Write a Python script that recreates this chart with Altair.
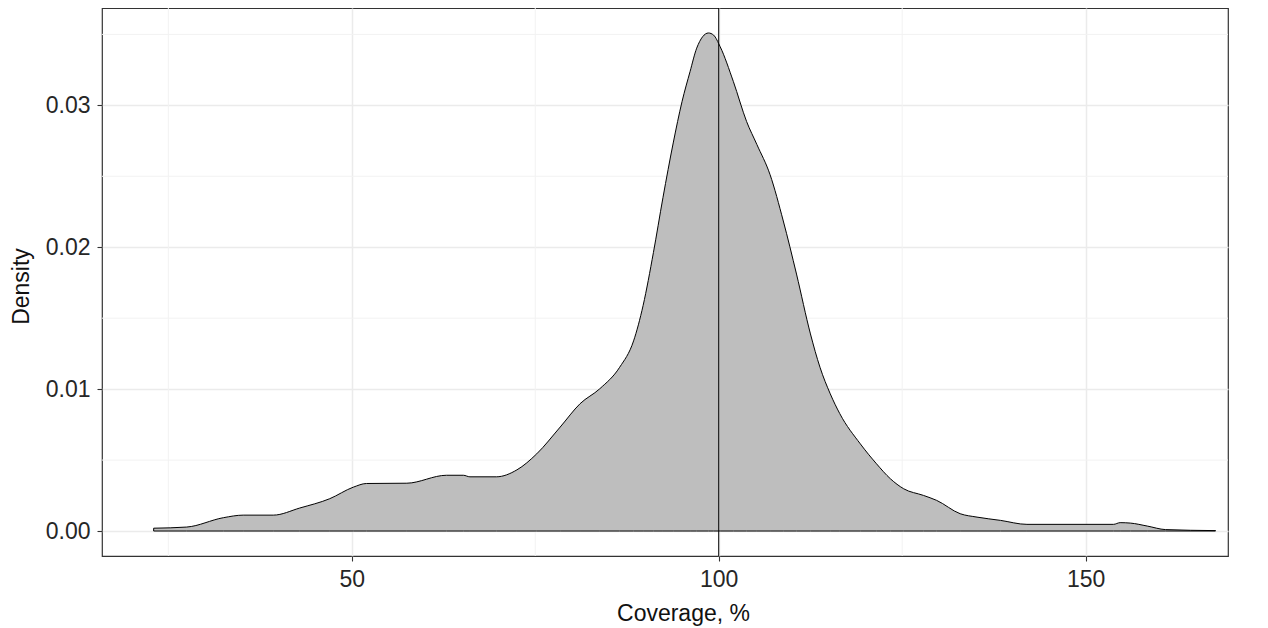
import altair as alt
import pandas as pd

coverage = [23.0, 27.5, 32.5, 35.2, 39.3, 42.9, 47.0, 50.2, 52.0, 57.5, 62.9, 65.2, 66.1,
            69.7, 72.5, 75.2, 78.4, 81.1, 83.8, 86.5, 88.4, 89.7, 91.1, 92.4, 93.8, 95.0,
            96.1, 97.0, 98.6, 99.3, 100.2, 102.0, 103.8, 105.2, 107.0, 108.8, 110.6, 112.5,
            113.8, 115.2, 116.5, 119.3, 121.5, 123.4, 125.2, 127.9, 129.7, 132.9, 135.2,
            138.4, 142.0, 153.8, 154.7, 156.1, 158.4, 160.9, 167.7]
density = [0.00020, 0.00028, 0.00094, 0.00112, 0.00112, 0.00162, 0.00228, 0.00309, 0.00335,
           0.00337, 0.00393, 0.00393, 0.00382, 0.00382, 0.00431, 0.00544, 0.00733, 0.00897,
           0.01003, 0.01154, 0.01340, 0.01590, 0.01962, 0.02349, 0.02735, 0.03026, 0.03239,
           0.03403, 0.03510, 0.03495, 0.03413, 0.03167, 0.02886, 0.02724, 0.02511, 0.02185,
           0.01811, 0.01389, 0.01154, 0.00967, 0.00827, 0.00614, 0.00474, 0.00368, 0.00298,
           0.00251, 0.00216, 0.00122, 0.00098, 0.00075, 0.00047, 0.00047, 0.00059, 0.00056,
           0.00035, 0.00010, 0.00003]

x_major = [50, 100, 150]
x_minor = [25, 75, 125]
y_major = [0.0, 0.01, 0.02, 0.03]
y_minor = [0.005, 0.015, 0.025, 0.035]
ref_x = [100]

x_domain = [15.96, 169.4]
y_domain = [-0.00176, 0.03686]

W, H = 1126, 548
FONT = "Liberation Sans"
FS = 23

df = pd.DataFrame({"coverage": coverage, "density": density})

xs = alt.Scale(domain=x_domain, nice=False, zero=False)
ys = alt.Scale(domain=y_domain, nice=False, zero=False)

x_axis = alt.Axis(values=x_major, title="Coverage, %", grid=True,
                  gridColor="#EBEBEB", gridWidth=1.5, format="d",
                  titleX=581, titleY=64, titleBaseline="alphabetic",
                  titleAlign="center")
y_axis = alt.Axis(values=y_major, title="Density", grid=True,
                  gridColor="#EBEBEB", gridWidth=1.5, format=".2f",
                  titleX=-92, titleY=278, titleAngle=270,
                  titleBaseline="top", titleAlign="center")

minor_v = alt.Chart(pd.DataFrame({"v": x_minor})).mark_rule(
    color="#F2F2F2", strokeWidth=1
).encode(x=alt.X("v:Q", scale=xs, axis=x_axis))

minor_h = alt.Chart(pd.DataFrame({"v": y_minor})).mark_rule(
    color="#F2F2F2", strokeWidth=1
).encode(y=alt.Y("v:Q", scale=ys, axis=y_axis))

area = alt.Chart(df).mark_area(
    fill="#BEBEBE", stroke="black", strokeWidth=1, interpolate="monotone"
).encode(
    x=alt.X("coverage:Q", scale=xs, axis=x_axis),
    y=alt.Y("density:Q", scale=ys, axis=y_axis),
)

vline = alt.Chart(pd.DataFrame({"x": ref_x})).mark_rule(
    color="black", strokeWidth=1
).encode(x=alt.X("x:Q", scale=xs, axis=x_axis))

chart = alt.layer(minor_v, minor_h, area, vline).properties(
    width=W, height=H,
    autosize=alt.AutoSizeParams(type="none"),
    padding={"left": 94, "top": 0, "right": 20, "bottom": 70},
).configure_view(
    stroke="#333333", strokeWidth=1.2
).configure_axis(
    domain=False, ticks=True, tickColor="#333333", tickSize=5, tickWidth=1.1,
    labelFont=FONT, labelFontSize=FS, labelColor="#262626", labelPadding=7,
    titleFont=FONT, titleFontSize=FS, titleColor="#111111", titleFontWeight="normal",
)

chart.save("out.html", embed_options={"renderer": "svg", "actions": False})
